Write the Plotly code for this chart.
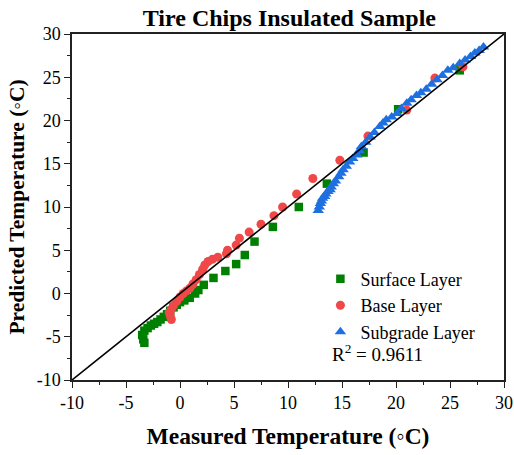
import plotly.graph_objects as go

# Surface layer (measured, predicted) in degC
surface_measured = [-3.3, -3.4, -3.5, -3.3, -3.0, -2.7, -2.4, -2.1, -1.8, -1.5, -1.2, -0.9,
                    -0.6, -0.3, 0.0, 0.4, 0.9, 1.4, 1.7, 2.2, 3.1, 4.2, 5.2, 6.0, 6.9, 8.6,
                    11.0, 13.6, 17.0, 20.2, 25.9]
surface_predicted = [-5.7, -5.3, -4.8, -4.3, -4.0, -3.7, -3.5, -3.3, -3.0, -2.7, -2.4, -2.0,
                     -1.6, -1.3, -1.0, -0.8, -0.5, 0.0, 0.4, 1.0, 1.8, 2.6, 3.4, 4.45, 6.0, 7.7,
                     10.0, 12.7, 16.3, 21.3, 25.8]

# Base layer
base_measured = [-0.8, -0.9, -1.0, -0.8, -0.6, -0.3, 0.0, 0.3, 0.6, 0.9, 1.2, 1.5, 1.8, 2.1,
                 2.3, 2.6, 3.0, 3.5, 4.3, 4.4, 5.2, 5.5, 6.4, 7.5, 8.7, 9.5, 10.8, 12.3, 14.8,
                 17.4, 21.0, 23.6, 26.2]
base_predicted = [-3.0, -2.6, -2.2, -1.8, -1.4, -0.9, -0.4, 0.0, 0.3, 0.6, 1.1, 1.6, 2.2, 2.8,
                  3.3, 3.7, 3.95, 4.2, 4.6, 5.0, 5.6, 6.4, 7.1, 8.0, 9.0, 10.0, 11.5, 13.3, 15.4,
                  18.2, 21.2, 24.9, 26.2]

# Subgrade layer
subgrade_measured = [12.8, 12.9, 13.0, 13.1, 13.2, 13.4, 13.5, 13.7, 13.9, 14.0, 14.2, 14.4,
                     14.7, 14.9, 15.1, 15.4, 15.7, 16.0, 16.4, 16.6, 16.8, 17.2, 17.6, 18.0,
                     18.5, 18.8, 19.1, 19.6, 20.1, 20.5, 21.0, 21.4, 21.9, 22.3, 22.8, 23.3,
                     23.8, 24.3, 24.8, 25.3, 25.9, 26.4, 26.9, 27.3, 27.7, 28.1]
subgrade_predicted = [9.6, 10.0, 10.4, 10.7, 11.0, 11.2, 11.5, 11.8, 12.0, 12.3, 12.7, 13.0,
                      13.5, 13.9, 14.3, 14.7, 15.2, 15.6, 16.0, 16.5, 17.0, 17.5, 18.1, 18.6,
                      19.3, 19.7, 20.1, 20.4, 20.8, 21.4, 22.0, 22.4, 22.9, 23.2, 23.6, 24.2,
                      24.7, 25.2, 25.8, 26.1, 26.6, 27.0, 27.4, 27.8, 28.1, 28.5]

axis_range = [-10, 30]
tick_values = [-10, -5, 0, 5, 10, 15, 20, 25, 30]
tick_labels = ["-10", "-5", "0", "5", "10", "15", "20", "25", "30"]
r_squared = 0.9611

FONT = "Liberation Serif"

fig = go.Figure()
fig.add_trace(go.Scatter(x=surface_measured, y=surface_predicted, mode="markers",
                         name="Surface Layer",
                         marker=dict(symbol="square", size=8.5, color="#008000")))
fig.add_trace(go.Scatter(x=base_measured, y=base_predicted, mode="markers",
                         name="Base Layer",
                         marker=dict(symbol="circle", size=9, color="#F04848")))
fig.add_trace(go.Scatter(x=subgrade_measured, y=subgrade_predicted, mode="markers",
                         name="Subgrade Layer",
                         marker=dict(symbol="triangle-up", size=10, color="#1E6FE0")))
# 1:1 reference line
fig.add_trace(go.Scatter(x=axis_range, y=axis_range, mode="lines", showlegend=False,
                         line=dict(color="black", width=1.6)))

axis_style = dict(
    range=axis_range, tickmode="array", tickvals=tick_values, ticktext=tick_labels,
    showgrid=False, zeroline=False, automargin=False,
    showline=True, linecolor="#222222", linewidth=1.5, mirror=True,
    ticks="outside", ticklen=6, tickwidth=1.3, tickcolor="#222222",
    minor=dict(dtick=2.5, ticks="outside", ticklen=3, tickwidth=1.1, tickcolor="#222222"),
    tickfont=dict(family=FONT, size=18, color="black"),
)

fig.update_layout(
    width=514, height=455,
    margin=dict(l=72, r=10, t=34, b=75),
    paper_bgcolor="white", plot_bgcolor="white",
    title=dict(text="<b>Tire Chips Insulated Sample</b>", x=0.563, xanchor="center",
               y=0.962, yanchor="middle",
               font=dict(family=FONT, size=24, color="black")),
    xaxis=dict(axis_style, title=dict(text="<b>Measured Temperature (◦C)</b>", standoff=15,
                                      font=dict(family=FONT, size=23.5, color="black"))),
    yaxis=dict(axis_style, title=dict(text="<b>Predicted Temperature (◦C)</b>", standoff=6,
                                      font=dict(family=FONT, size=21.5, color="black"))),
    legend=dict(x=0.575, y=0.345, xanchor="left", yanchor="top", bgcolor="rgba(0,0,0,0)",
                font=dict(family=FONT, size=18, color="black"), tracegroupgap=0),
    annotations=[dict(text=f"R<sup>2</sup> = {r_squared}", xref="paper", yref="paper",
                      x=0.597, y=0.078, xanchor="left", yanchor="middle", showarrow=False,
                      font=dict(family=FONT, size=19, color="black"))],
)

fig.write_html("out.html")
